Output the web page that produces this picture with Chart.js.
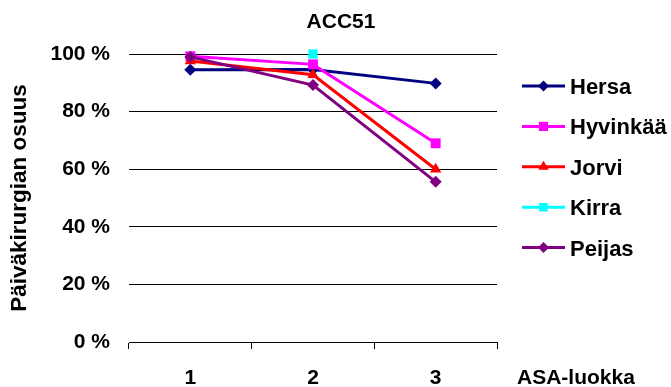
<!DOCTYPE html>
<html>
<head>
<meta charset="utf-8">
<script src="https://cdn.jsdelivr.net/npm/chart.js@4.4.1/dist/chart.umd.min.js"></script>
<style>
  html, body { margin: 0; padding: 0; background: #fff; }
  #wrap { width: 671px; height: 387px; }
</style>
</head>
<body>
<div id="wrap"><canvas id="c" width="671" height="387"></canvas></div>
<script>
// ASA classes on the x axis
const categories = ['1', '2', '3'];

// Share of day surgery (%) per hospital
const hersa    = [94.5, 94.6, 89.8];
const hyvinkaa = [99.2, 96.4, 69.0];
const jorvi    = [97.6, 92.8, 60.0];
const kirra    = [null, 100, null];
const peijas   = [99.0, 89.2, 55.6];

const seriesNames = ['Hersa', 'Hyvinkää', 'Jorvi', 'Kirra', 'Peijas'];
const yTicks = [0, 20, 40, 60, 80, 100];

const FONT = 'Liberation Sans, Arial, sans-serif';

const styles = [
  { color: '#000080', point: 'rectRot',  r: 6 },
  { color: '#FF00FF', point: 'rect',     r: 7 },
  { color: '#FF0000', point: 'triangle', r: 6.5 },
  { color: '#00FFFF', point: 'rect',     r: 6.5 },
  { color: '#800080', point: 'rectRot',  r: 6 }
];
const values = [hersa, hyvinkaa, jorvi, kirra, peijas];

const datasets = seriesNames.map((name, i) => ({
  label: name,
  data: values[i],
  borderColor: styles[i].color,
  backgroundColor: styles[i].color,
  borderWidth: 3,
  pointStyle: styles[i].point,
  pointRadius: styles[i].r,
  pointHoverRadius: styles[i].r,
  pointBorderWidth: 0,
  spanGaps: false,
  clip: false,
  order: seriesNames.length - i,
  tension: 0
}));

// Title, right-hand legend and the x-axis caption
const decorations = {
  id: 'decorations',
  afterDraw(chart) {
    const ctx = chart.ctx;
    ctx.save();
    ctx.fillStyle = '#000';
    ctx.font = 'bold 21px ' + FONT;
    ctx.textAlign = 'center';
    ctx.textBaseline = 'alphabetic';
    ctx.fillText('ACC51', 341, 28);

    // x-axis caption on the tick-label line
    ctx.textAlign = 'left';
    ctx.fillText('ASA-luokka', 517, 384);

    // legend: line sample with marker, then name
    const x0 = 522, x1 = 565, xm = 543.5, xt = 570;
    chart.data.datasets.forEach((ds, i) => {
      const y = 86 + i * 40.4;
      ctx.strokeStyle = ds.borderColor;
      ctx.lineWidth = 3;
      ctx.beginPath();
      ctx.moveTo(x0, y);
      ctx.lineTo(x1, y);
      ctx.stroke();
      ctx.fillStyle = ds.backgroundColor;
      Chart.helpers.drawPoint(ctx, {
        pointStyle: ds.pointStyle,
        radius: ds.pointRadius - 0.5,
        rotation: 0,
        borderWidth: 0
      }, xm, y);
      ctx.fillStyle = '#000';
      ctx.font = 'bold 22px ' + FONT;
      ctx.textAlign = 'left';
      ctx.textBaseline = 'alphabetic';
      ctx.fillText(ds.label, xt, y + 8);
    });
    ctx.restore();
  }
};

new Chart(document.getElementById('c'), {
  type: 'line',
  data: { labels: categories, datasets: datasets },
  plugins: [decorations],
  options: {
    responsive: false,
    animation: false,
    devicePixelRatio: 1,
    layout: { padding: { top: 54, right: 174, bottom: 0, left: 0 } },
    plugins: {
      legend: { display: false },
      title: { display: false },
      tooltip: { enabled: false }
    },
    scales: {
      x: {
        type: 'category',
        offset: true,
        afterFit(scale) { scale.height = 45; },
        grid: {
          offset: true,
          drawOnChartArea: false,
          drawTicks: true,
          tickLength: 7,
          color: '#000',
          lineWidth: 1
        },
        border: { display: true, color: '#000', width: 1 },
        ticks: {
          color: '#000',
          font: { family: FONT, size: 21, weight: 'bold' },
          padding: 17,
          maxRotation: 0
        }
      },
      y: {
        min: 0,
        max: 100,
        afterFit(scale) { scale.width = 129; },
        afterBuildTicks(scale) { scale.ticks = yTicks.map(v => ({ value: v })); },
        grid: {
          color: '#000',
          lineWidth: 1,
          drawTicks: false
        },
        border: { display: false },
        ticks: {
          color: '#000',
          font: { family: FONT, size: 21, weight: 'bold' },
          padding: 19,
          callback: v => v + ' %'
        },
        title: {
          display: true,
          text: 'Päiväkirurgian osuus',
          color: '#000',
          font: { family: FONT, size: 22.5, weight: 'bold' },
          padding: { top: 6, bottom: 0 }
        }
      }
    }
  }
});
</script>
</body>
</html>
